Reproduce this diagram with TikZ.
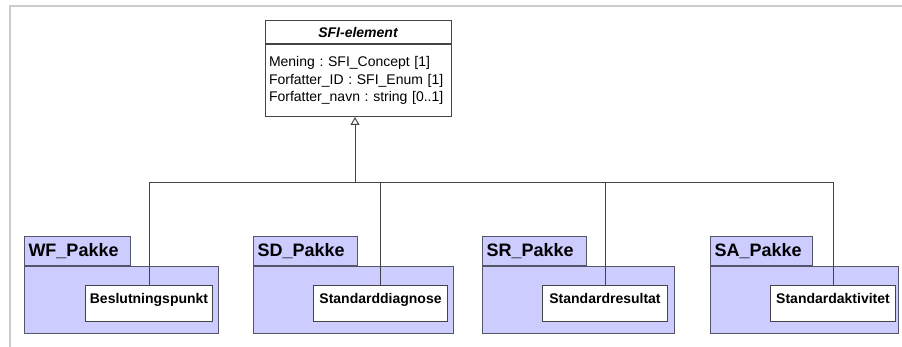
\documentclass[tikz,border=0pt]{standalone}
\usepackage{fontspec}
\setmainfont{Liberation Sans}
\frenchspacing
\usetikzlibrary{arrows.meta}
\definecolor{pakkefill}{HTML}{CCCCFF}
\definecolor{pakkeline}{HTML}{55556A}
\definecolor{umlline}{HTML}{444444}
\tikzset{
  klasse/.style={draw=umlline, fill=white, line width=1pt, inner sep=0pt},
  pakke/.style={draw=pakkeline, fill=pakkefill, line width=1pt, inner sep=0pt, anchor=north west},
  fane/.style={pakke, anchor=south west, minimum height=29pt, inner xsep=4pt, font=\fontsize{18}{20}\selectfont\bfseries},
  element/.style={klasse, anchor=north west, text height=18pt, text depth=18pt, font=\fontsize{14}{16}\selectfont\bfseries},
  arv/.style={draw=umlline, line width=1pt, -{Triangle[open, width=9pt, length=8pt]}},
  linje/.style={draw=umlline, line width=1pt}
}
\begin{document}
\begin{tikzpicture}[x=1pt,y=-1pt]
\useasboundingbox (0,0) rectangle (902,347);
\draw[gray!40, line width=2pt] (10,347) -- (10,6) -- (902,6);
\node[klasse, anchor=north, minimum width=186pt, minimum height=23pt, font=\fontsize{14}{16}\selectfont\bfseries\itshape] (sfi) at (358,20) {SFI-element};
\node[klasse, anchor=north, minimum width=186pt, minimum height=72pt, text width=178pt, align=left, font=\fontsize{14}{17.7}\selectfont] (sfiattr) at (sfi.south) {Mening : SFI\_Concept [1]\\Forfatter\_ID : SFI\_Enum [1]\\Forfatter\_navn : string [0..1]};

\node[pakke, minimum width=194pt, minimum height=67pt] (wf) at (24,266) {};
\node[fane, text width=98pt] (wftab) at (wf.north west) {WF\_Pakke};
\node[element, minimum width=127pt] (bp) at (85,285) {Beslutningspunkt};

\node[pakke, minimum width=200pt, minimum height=67pt] (sd) at (253,266) {};
\node[fane, text width=96pt] (sdtab) at (sd.north west) {SD\_Pakke};
\node[element, minimum width=134pt] (sdiag) at (313,285) {Standarddiagnose};

\node[pakke, minimum width=192pt, minimum height=67pt] (sr) at (482,266) {};
\node[fane, text width=96pt] (srtab) at (sr.north west) {SR\_Pakke};
\node[element, minimum width=125pt] (sres) at (542,285) {Standardresultat};

\node[pakke, minimum width=188pt, minimum height=67pt] (sa) at (710,266) {};
\node[fane, text width=94pt] (satab) at (sa.north west) {SA\_Pakke};
\node[element, minimum width=125pt] (sakt) at (770,285) {Standardaktivitet};

\coordinate (bus) at (355,183);
\draw[arv] (bus) -- ([xshift=-3pt]sfiattr.south);
\draw[linje] (bp.north) |- (sakt.north |- bus) -- (sakt.north);
\draw[linje] (sdiag.north) -- (sdiag.north |- bus);
\draw[linje] (sres.north) -- (sres.north |- bus);
\end{tikzpicture}
\end{document}
